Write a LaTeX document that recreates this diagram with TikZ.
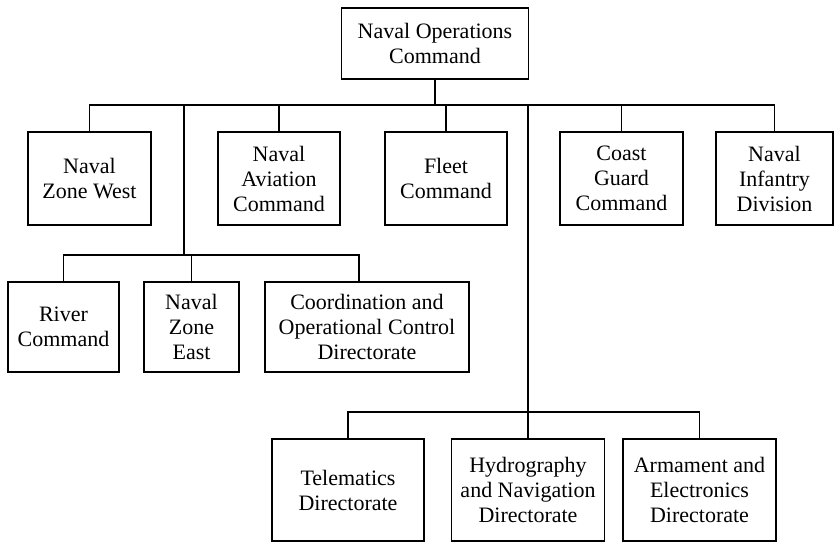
\documentclass[tikz,border=0pt]{standalone}
\usepackage{fontspec}
\setmainfont{Liberation Serif}
\begin{document}
\begin{tikzpicture}[x=1pt,y=-1pt,
  unit/.style={draw, line width=1.1pt, align=center, inner sep=0pt,
    font=\fontsize{22}{25}\selectfont},
  link/.style={line width=1.1pt}]
\useasboundingbox (0,0) rectangle (834,542);

% headquarters
\node[unit, minimum width=187pt, minimum height=71pt] (hq) at (435,43.5) {Naval Operations\\Command};

% first level
\node[unit, minimum width=123pt, minimum height=93pt] (nzw) at (89.5,178.5) {Naval\\Zone West};
\node[unit, minimum width=122pt, minimum height=93pt] (nav) at (279,178.5) {Naval\\Aviation\\Command};
\node[unit, minimum width=122pt, minimum height=93pt] (fleet) at (446,178.5) {Fleet\\Command};
\node[unit, minimum width=123pt, minimum height=93pt] (cg) at (621.5,178.5) {Coast\\Guard\\Command};
\node[unit, minimum width=117pt, minimum height=93pt] (ni) at (774.5,178.5) {Naval\\Infantry\\Division};

% second level (left branch)
\node[unit, minimum width=111pt, minimum height=90pt] (river) at (63.5,327) {River\\Command};
\node[unit, minimum width=95pt, minimum height=90pt] (nze) at (191.5,327) {Naval\\Zone\\East};
\node[unit, minimum width=204pt, minimum height=90pt] (coord) at (367,327) {Coordination and\\Operational Control\\Directorate};

% directorates (right branch)
\node[unit, minimum width=152pt, minimum height=102pt] (tele) at (348,490) {Telematics\\Directorate};
\node[unit, minimum width=153pt, minimum height=102pt] (hydro) at (528,490) {Hydrography\\and Navigation\\Directorate};
\node[unit, minimum width=153pt, minimum height=102pt] (arm) at (699.5,490) {Armament and\\Electronics\\Directorate};

% junction points
\coordinate (b0) at (435,105);
\coordinate (j1) at (184,105);
\coordinate (j2) at (184,255);
\coordinate (j3) at (528,105);
\coordinate (j4) at (528,412);

% main bus
\draw[link] (hq.south) -- (b0);
\draw[link] (nzw.north) |- (b0) -| (ni.north);
\draw[link] (nav.north) -- (nav.north |- b0);
\draw[link] (fleet.north) -- (fleet.north |- b0);
\draw[link] (cg.north) -- (cg.north |- b0);

% left branch
\draw[link] (j1) -- (j2);
\draw[link] (river.north) |- (j2) -| ([xshift=-8pt]coord.north);
\draw[link] (nze.north) -- (nze.north |- j2);

% right branch
\draw[link] (j3) -- (j4);
\draw[link] (tele.north) |- (j4) -| (arm.north);
\draw[link] (hydro.north) -- (j4);
\end{tikzpicture}
\end{document}
